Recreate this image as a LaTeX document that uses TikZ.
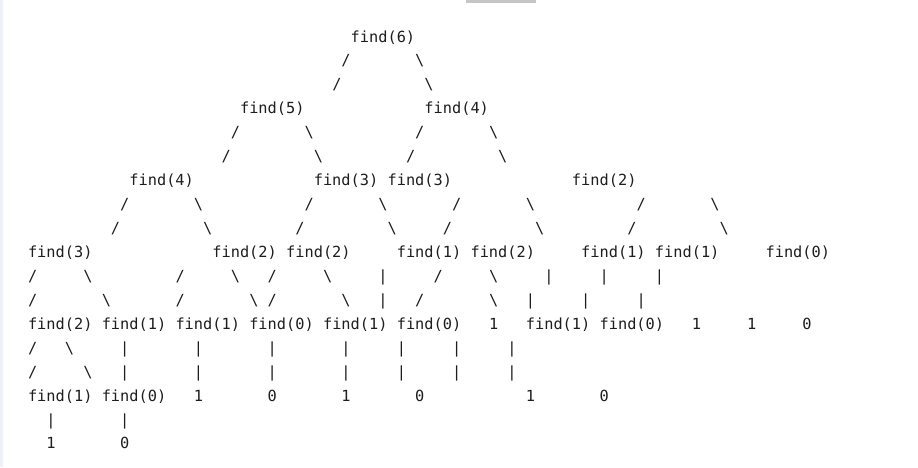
\documentclass[tikz,border=0pt]{standalone}
\usepackage{fontspec}
\setmonofont{DejaVu Sans Mono}
\newcommand\slsh{/}
\newcommand\bksl{\textbackslash}
\newcommand\vbar{|}
\definecolor{txt}{HTML}{1E1E1E}
\definecolor{stripc}{HTML}{EEF0FA}
\definecolor{barc}{HTML}{C6C6C6}
\tikzset{tok/.style={anchor=base west, inner sep=0pt, outer sep=0pt,
  font=\ttfamily\fontsize{15.3}{18}\selectfont, text=txt}}
\newcommand\tokrow[2]{%
  \foreach \cc/\tx in {#2}{%
    \node[tok] (r#1c\cc) at ({28+\cc*9.22},{-42-#1*23.94}) {\tx};}}
\begin{document}
\begin{tikzpicture}[x=1pt,y=1pt]
\fill[white] (0,0) rectangle (918,-467);
\useasboundingbox (0,0) rectangle (918,-467);
\fill[stripc] (0,0) rectangle (2.7,-467);
\fill[barc] (466,0) rectangle (536,-2.7);
\tokrow{0}{35/find(6)}
\tokrow{1}{34/\slsh, 42/\bksl}
\tokrow{2}{33/\slsh, 43/\bksl}
\tokrow{3}{23/find(5), 43/find(4)}
\tokrow{4}{22/\slsh, 30/\bksl, 42/\slsh, 50/\bksl}
\tokrow{5}{21/\slsh, 31/\bksl, 41/\slsh, 51/\bksl}
\tokrow{6}{11/find(4), 31/find(3), 39/find(3), 59/find(2)}
\tokrow{7}{10/\slsh, 18/\bksl, 30/\slsh, 38/\bksl, 46/\slsh, 54/\bksl, 66/\slsh, 74/\bksl}
\tokrow{8}{9/\slsh, 19/\bksl, 29/\slsh, 39/\bksl, 45/\slsh, 55/\bksl, 65/\slsh, 75/\bksl}
\tokrow{9}{0/find(3), 20/find(2), 28/find(2), 40/find(1), 48/find(2), 60/find(1), 68/find(1), 80/find(0)}
\tokrow{10}{0/\slsh, 6/\bksl, 16/\slsh, 22/\bksl, 26/\slsh, 32/\bksl, 38/\vbar, 44/\slsh, 50/\bksl, 56/\vbar, 62/\vbar, 68/\vbar}
\tokrow{11}{0/\slsh, 8/\bksl, 16/\slsh, 24/\bksl, 26/\slsh, 34/\bksl, 38/\vbar, 42/\slsh, 50/\bksl, 54/\vbar, 60/\vbar, 66/\vbar}
\tokrow{12}{0/find(2), 8/find(1), 16/find(1), 24/find(0), 32/find(1), 40/find(0), 50/1, 54/find(1), 62/find(0), 72/1, 78/1, 84/0}
\tokrow{13}{0/\slsh, 4/\bksl, 10/\vbar, 18/\vbar, 26/\vbar, 34/\vbar, 40/\vbar, 46/\vbar, 52/\vbar}
\tokrow{14}{0/\slsh, 6/\bksl, 10/\vbar, 18/\vbar, 26/\vbar, 34/\vbar, 40/\vbar, 46/\vbar, 52/\vbar}
\tokrow{15}{0/find(1), 8/find(0), 18/1, 26/0, 34/1, 42/0, 54/1, 62/0}
\tokrow{16}{2/\vbar, 10/\vbar}
\tokrow{17}{2/1, 10/0}
\end{tikzpicture}
\end{document}
